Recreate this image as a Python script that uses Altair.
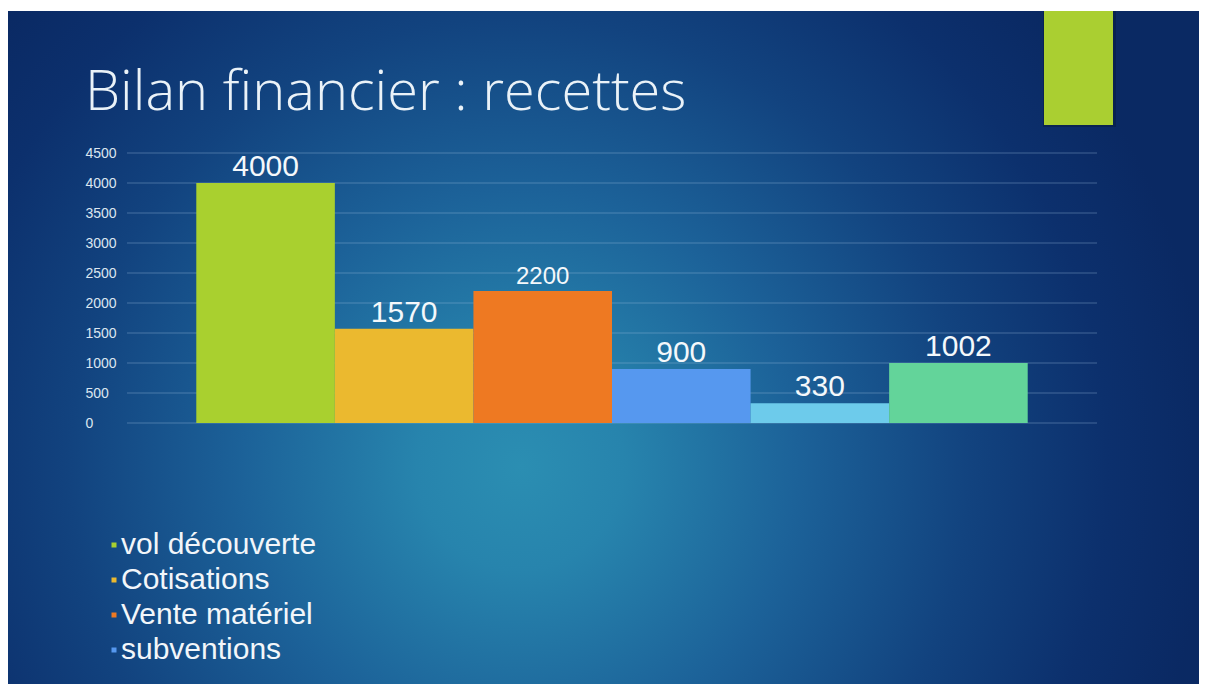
import altair as alt
import pandas as pd

# ---- data ----
categories = ["vol découverte", "Cotisations", "Vente matériel", "subventions", "catégorie 5", "catégorie 6"]
values = [4000, 1570, 2200, 900, 330, 1002]
colors = ["#A9D02F", "#EBB92F", "#EE7922", "#5698EF", "#6DCBEB", "#63D49A"]
legend_items = categories[:4]
y_ticks = [0, 500, 1000, 1500, 2000, 2500, 3000, 3500, 4000, 4500]
title_text = ["Bilan financier : recettes"]

# ---- layout ----
W, H = 970, 270
PAD = {"left": 119, "top": 145, "right": 102, "bottom": 261}

df = pd.DataFrame({"categorie": categories, "valeur": values})
grid_df = pd.DataFrame({"valeur": y_ticks})
one = pd.DataFrame({"k": [0]})
title_df = pd.DataFrame({"t": title_text})

yscale = alt.Scale(domain=[0, 4500], nice=False, zero=True)
xscale = alt.Scale(domain=categories, paddingInner=0, paddingOuter=0.5)
yaxis = alt.Axis(values=y_ticks, format="d", title=None, grid=False, domain=False,
                 ticks=False, tickSize=0, labelAlign="left", labelPadding=42,
                 labelBaseline="middle", labelOverlap=False,
                 labelFont="Liberation Sans", labelFontSize=14, labelColor="#DCE6F0",
                 zindex=1)

bg_gradient = alt.RadialGradient(
    gradient="radial",
    x1=0.43, y1=0.6, r1=0,
    x2=0.43, y2=0.6, r2=0.58,
    stops=[
        alt.GradientStop(offset=0.0, color="#2B8EB2"),
        alt.GradientStop(offset=0.15, color="#2784AD"),
        alt.GradientStop(offset=0.4, color="#1C6299"),
        alt.GradientStop(offset=0.65, color="#12437F"),
        alt.GradientStop(offset=0.85, color="#0C306D"),
        alt.GradientStop(offset=1.0, color="#0A2963"),
    ],
)

bg = alt.Chart(one).mark_rect(color=bg_gradient).encode(
    x=alt.value(-119), x2=alt.value(1072), y=alt.value(-142), y2=alt.value(531)
)

deco_shadow = alt.Chart(one).mark_rect(color="#061a3a", opacity=0.45).encode(
    x=alt.value(916), x2=alt.value(989), y=alt.value(-142), y2=alt.value(-26)
)
deco = alt.Chart(one).mark_rect(color="#AACF31").encode(
    x=alt.value(917), x2=alt.value(986), y=alt.value(-142), y2=alt.value(-28)
)

grid = alt.Chart(grid_df).mark_rule(color="#9EC0E0", opacity=0.25, strokeWidth=1.5).encode(
    y=alt.Y("valeur:Q", scale=yscale, axis=yaxis),
    x=alt.value(0), x2=alt.value(W),
)

# small square bullet, shifted right so it sits just before the label text
bullet = "M2.2,-1L4.2,-1L4.2,1L2.2,1Z"

bars = alt.Chart(df).mark_bar(opacity=1).encode(
    x=alt.X("categorie:N", sort=categories, scale=xscale, axis=None),
    y=alt.Y("valeur:Q", scale=yscale, axis=yaxis),
    color=alt.Color(
        "categorie:N",
        scale=alt.Scale(domain=categories, range=colors),
        legend=alt.Legend(
            orient="none", legendX=-36, legendY=377, values=legend_items, title=None,
            direction="vertical", symbolType=bullet, symbolSize=25, symbolStrokeWidth=0,
            symbolOpacity=1, labelFont="Liberation Sans", labelFontSize=30,
            labelColor="#F2F6FA", labelOffset=0, rowPadding=5, padding=0, labelLimit=500,
        ),
    ),
)

labels = alt.Chart(df).mark_text(
    baseline="alphabetic", dy=-7, font="Liberation Sans", color="#F4F8FB"
).encode(
    x=alt.X("categorie:N", sort=categories, scale=xscale, axis=None),
    y=alt.Y("valeur:Q", scale=yscale, axis=yaxis),
    text=alt.Text("valeur:Q", format="d"),
    size=alt.condition("datum.categorie == 'Vente matériel'", alt.value(24), alt.value(30)),
)

title = alt.Chart(title_df).mark_text(
    align="left", baseline="alphabetic", font="Open Sans", fontWeight=300,
    fontSize=56, color="#EAF2F8"
).encode(text="t:N", x=alt.value(-42), y=alt.value(-43))

chart = alt.layer(bg, deco_shadow, deco, grid, bars, labels, title).properties(
    width=W, height=H,
    autosize=alt.AutoSizeParams(type="none"),
    padding=PAD,
).configure_view(stroke=None).configure(background="white")

chart.save("out.html", embed_options={"renderer": "svg", "actions": False})
